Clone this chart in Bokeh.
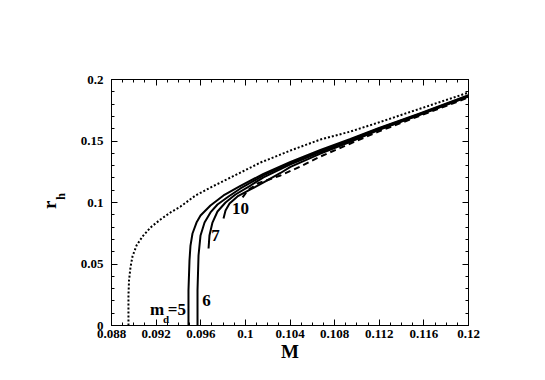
from bokeh.plotting import figure
from bokeh.models import Range1d, LinearAxis, FixedTicker, CustomJSTickFormatter, Label
from bokeh.embed import file_html
from bokeh.resources import INLINE

# ---------------- data ----------------
x_ticks = [0.088, 0.092, 0.096, 0.1, 0.104, 0.108, 0.112, 0.116, 0.12]
x_minor = [round(0.088 + 0.001 * i, 4) for i in range(33)]
y_ticks = [0, 0.05, 0.1, 0.15, 0.2]
y_minor = [round(0.01 * i, 3) for i in range(21)]

dotted_M = [0.08952, 0.08952, 0.08957, 0.08970, 0.08988, 0.09024, 0.09078, 0.09150, 0.09239,
            0.09329, 0.09418, 0.09553, 0.09705, 0.09867, 0.10136, 0.10404, 0.10673, 0.10942,
            0.11193, 0.11570, 0.12]
dotted_r = [0, 0.0244, 0.0366, 0.0472, 0.0561, 0.0650, 0.0724, 0.0797, 0.0862,
            0.0919, 0.0967, 0.1057, 0.1130, 0.1203, 0.1325, 0.1423, 0.1512, 0.1577,
            0.1650, 0.1764, 0.1894]

m5_M = [0.09490, 0.09490, 0.09499, 0.09508, 0.09526, 0.09562, 0.09598, 0.09687, 0.09804,
        0.09956, 0.10162, 0.10404, 0.10673, 0.10942, 0.11193, 0.1157, 0.12]
m5_r = [0, 0.0285, 0.0528, 0.0650, 0.0748, 0.0837, 0.0894, 0.0976, 0.1057,
        0.1135, 0.1233, 0.1330, 0.1427, 0.1516, 0.1605, 0.1727, 0.1872]

m6_M = [0.09571, 0.09571, 0.09580, 0.09598, 0.09634, 0.09687, 0.09750, 0.09849, 0.09956,
        0.10162, 0.10404, 0.10673, 0.10942, 0.11193, 0.1157, 0.12]
m6_r = [0, 0.0285, 0.0569, 0.0732, 0.0837, 0.0919, 0.0984, 0.1049, 0.1114,
        0.1220, 0.1320, 0.1420, 0.1510, 0.1600, 0.1722, 0.1868]

m7_M = [0.09670, 0.09678, 0.09705, 0.09750, 0.09822, 0.09911, 0.10046, 0.10162, 0.10404,
        0.10673, 0.10942, 0.11193, 0.1157, 0.12]
m7_r = [0.0626, 0.0732, 0.0837, 0.0927, 0.1000, 0.1065, 0.1138, 0.1205, 0.1310,
        0.1410, 0.1502, 0.1594, 0.1718, 0.1865]

m10_M = [0.09804, 0.09822, 0.09858, 0.09929, 0.10046, 0.10180, 0.10315, 0.10404, 0.10673,
         0.10942, 0.11193, 0.1157, 0.12]
m10_r = [0.0870, 0.0935, 0.0992, 0.1049, 0.1106, 0.1171, 0.1240, 0.1290, 0.1398,
         0.1494, 0.1588, 0.1714, 0.1862]

dash_M = [0.09975, 0.1002, 0.10109, 0.10315, 0.10494, 0.10673, 0.10942, 0.11193, 0.1157, 0.12]
dash_r = [0.1041, 0.1098, 0.1154, 0.1220, 0.1293, 0.1374, 0.1480, 0.1577, 0.1707, 0.1854]

# ---------------- figure ----------------
FONT = "Liberation Serif"

p = figure(width=538, height=375, output_backend="svg", toolbar_location=None,
           x_range=Range1d(0.088, 0.12), y_range=Range1d(0, 0.2),
           x_axis_location=None, y_axis_location=None,
           min_border_left=111, min_border_right=70, min_border_top=79, min_border_bottom=50)
p.outline_line_color = None
p.xgrid.visible = False
p.ygrid.visible = False
p.background_fill_color = "white"
p.border_fill_color = "white"

fmt = CustomJSTickFormatter(code="return String(Math.round(tick*10000)/10000);")


def style_axis(ax, show_labels):
    ax.axis_line_color = "black"
    ax.axis_line_width = 1
    ax.major_tick_in = 6
    ax.major_tick_out = 0
    ax.minor_tick_in = 3
    ax.minor_tick_out = 0
    ax.major_tick_line_color = "black"
    ax.minor_tick_line_color = "black"
    ax.major_label_text_font = FONT
    ax.major_label_text_font_style = "bold"
    ax.major_label_text_font_size = "13px"
    ax.major_label_text_color = "black"
    ax.axis_label_text_font = FONT
    ax.axis_label_text_font_style = "bold"
    ax.axis_label_text_color = "black"
    if not show_labels:
        ax.major_label_text_alpha = 0


xt = FixedTicker(ticks=x_ticks, minor_ticks=x_minor)
yt = FixedTicker(ticks=y_ticks, minor_ticks=y_minor)

bx = LinearAxis(ticker=xt, formatter=fmt, major_label_standoff=4,
                axis_label="M", axis_label_standoff=0)
style_axis(bx, True)
bx.axis_label_text_font_size = "19px"

tx = LinearAxis(ticker=xt, formatter=fmt)
style_axis(tx, False)

# inner left axis: ticks, tick labels and the subscript "h"
ly = LinearAxis(ticker=yt, formatter=fmt, major_label_standoff=8,
                axis_label="\u00a0\u00a0\u00a0\u00a0h", axis_label_standoff=10)
style_axis(ly, True)
ly.axis_label_text_font_size = "12px"

# outer left axis: only the main letter "r"
oy = LinearAxis(ticker=FixedTicker(ticks=[]), axis_label="r\u00a0",
                axis_label_standoff=-9, major_label_standoff=0)
style_axis(oy, False)
oy.axis_line_color = None
oy.major_tick_line_color = None
oy.minor_tick_line_color = None
oy.major_label_text_font_size = "0px"
oy.axis_label_text_font_size = "19px"

ry = LinearAxis(ticker=yt, formatter=fmt)
style_axis(ry, False)

p.add_layout(bx, "below")
p.add_layout(tx, "above")
p.add_layout(ly, "left")
p.add_layout(oy, "left")
p.add_layout(ry, "right")

# ---------------- curves ----------------
p.line(dotted_M, dotted_r, line_color="black", line_width=2, line_dash="2 2")
for M, r in [(m5_M, m5_r), (m6_M, m6_r), (m7_M, m7_r), (m10_M, m10_r)]:
    p.line(M, r, line_color="black", line_width=2, line_join="round")
p.line(dash_M, dash_r, line_color="black", line_width=2, line_dash="6 4")

# ---------------- annotations ----------------
def lab(x, y, text, size, align="center", baseline="middle"):
    p.add_layout(Label(x=x, y=y, text=text, text_font=FONT, text_font_style="bold",
                       text_font_size=size, text_align=align, text_baseline=baseline,
                       text_color="black"))


lab(0.09145, 0.0130, "m", "17px", align="left", baseline="alphabetic")
lab(0.09262, 0.0052, "d", "11px", align="left", baseline="alphabetic")
lab(0.09304, 0.0130, "=5", "17px", align="left", baseline="alphabetic")
lab(0.09652, 0.0203, "6", "17px")
lab(0.09732, 0.0732, "7", "17px")
lab(0.09956, 0.0951, "10", "17px")

open("out.html", "w").write(file_html(p, INLINE))
